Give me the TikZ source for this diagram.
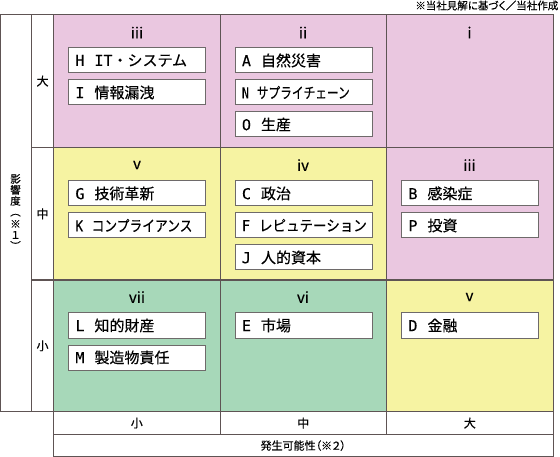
\documentclass[tikz,border=0pt]{standalone}
\usepackage{fontspec}
\usepackage{graphicx}
\setmainfont{Noto Sans CJK JP}[FakeBold=0.35]
\newfontfamily\jpp{Noto Sans CJK JP}[RawFeature=+palt, FakeBold=0.35]
\newfontfamily\ltrfont{DejaVu Sans Mono}[FakeBold=0.3]
\newcommand\rk[2]{{\ltrfont\fontsize{15}{16}\selectfont #1}\hspace{10pt}#2}
\definecolor{pinkc}{HTML}{EAC7E0}
\definecolor{yelc}{HTML}{F6F3A2}
\definecolor{grnc}{HTML}{A7D8B9}
\definecolor{gridc}{HTML}{5E5454}
\definecolor{boxc}{HTML}{6E6A6A}
\begin{document}
\begin{tikzpicture}[x=1pt,y=-1pt,
  cell/.style={draw=gridc, line width=1.1pt, anchor=north west, inner sep=0pt, minimum width=#1},
  cell/.default=166.5pt,
  rbox/.style={draw=boxc, line width=0.9pt, fill=white, anchor=north west, inner xsep=7pt, inner ysep=0pt,
    text width=123pt, minimum height=25pt, align=left, font=\fontsize{15}{16}\selectfont},
  rn/.style={font=\fontsize{15}{16}\selectfont, inner sep=0pt},
  axl/.style={font=\fontsize{12}{14}\selectfont, inner sep=0pt},
]
\useasboundingbox (0,0) rectangle (560,457);
% frame columns
\node[cell=31pt, minimum height=397pt] (leftcol) at (0,14) {};
\node[cell=22pt, minimum height=133pt] (lab1) at (31,14) {};
\node[cell=22pt, minimum height=132.5pt] (lab2) at (31,147) {};
\node[cell=22pt, minimum height=131.5pt] (lab3) at (31,279.5) {};
% grid cells
\node[cell, minimum height=133pt, fill=pinkc] (c11) at (53,14) {};
\node[cell, minimum height=133pt, fill=pinkc] (c12) at (219.5,14) {};
\node[cell, minimum height=133pt, fill=pinkc] (c13) at (386,14) {};
\node[cell, minimum height=132.5pt, fill=yelc] (c21) at (53,147) {};
\node[cell, minimum height=132.5pt, fill=yelc] (c22) at (219.5,147) {};
\node[cell, minimum height=132.5pt, fill=pinkc] (c23) at (386,147) {};
\node[cell, minimum height=131.5pt, fill=grnc] (c31) at (53,279.5) {};
\node[cell, minimum height=131.5pt, fill=grnc] (c32) at (219.5,279.5) {};
\node[cell, minimum height=131.5pt, fill=yelc] (c33) at (386,279.5) {};
% bottom axis
\node[cell, minimum height=23pt] (x1) at (53,411) {};
\node[cell, minimum height=23pt] (x2) at (219.5,411) {};
\node[cell, minimum height=23pt] (x3) at (386,411) {};
\node[cell=499.5pt, minimum height=22pt] (xt) at (53,434) {};
% numerals
\node[rn] (n11) at (137,32.5) {iii};
\node[rn] (n12) at (303,32.5) {ii};
\node[rn] (n13) at (469.5,32.5) {i};
\node[rn] (n21) at (137,165) {v};
\node[rn] (n22) at (303,165) {iv};
\node[rn] (n23) at (469.5,165) {iii};
\node[rn] (n31) at (137,297) {vii};
\node[rn] (n32) at (303,297) {vi};
\node[rn] (n33) at (469.5,297) {v};
% risk boxes
\node[rbox] (bH) at (68,47.5) {\rk{H}{{\ltrfont\fontsize{15}{16}\selectfont IT}・システム}};
\node[rbox] (bI) at (68,79.5) {\rk{I}{情報漏洩}};
\node[rbox] (bA) at (234.5,47.5) {\rk{A}{自然災害}};
\node[rbox] (bN) at (234.5,79.5) {\scalebox{0.78}[1]{\rk{N}{サプライチェーン}}};
\node[rbox] (bO) at (234.5,111.5) {\rk{O}{生産}};
\node[rbox] (bG) at (68,180.5) {\rk{G}{技術革新}};
\node[rbox] (bK) at (68,212.5) {\scalebox{0.85}[1]{\rk{K}{コンプライアンス}}};
\node[rbox] (bC) at (234.5,180.5) {\rk{C}{政治}};
\node[rbox] (bF) at (234.5,212.5) {\scalebox{0.9}[1]{\rk{F}{レピュテーション}}};
\node[rbox] (bJ) at (234.5,244.5) {\rk{J}{人的資本}};
\node[rbox] (bB) at (401,180.5) {\rk{B}{感染症}};
\node[rbox] (bP) at (401,212.5) {\rk{P}{投資}};
\node[rbox] (bL) at (68,312.5) {\rk{L}{知的財産}};
\node[rbox] (bM) at (68,344.5) {\rk{M}{製造物責任}};
\node[rbox] (bE) at (234.5,312.5) {\rk{E}{市場}};
\node[rbox] (bD) at (401,312.5) {\rk{D}{金融}};
% axis labels
\node[axl] (ly1) at (lab1.center) {大};
\node[axl] (ly2) at (lab2.center) {中};
\node[axl] (ly3) at (lab3.center) {小};
\node[axl] (lx1) at (x1.center) {小};
\node[axl] (lx2) at (x2.center) {中};
\node[axl] (lx3) at (x3.center) {大};
\node[font=\jpp\fontsize{11}{13}\selectfont, inner sep=0pt] (xtitle) at (xt.center) {発生可能性（※２）};
\node[font=\fontsize{10.5}{11}\selectfont, align=center, inner sep=0pt] (ytitle) at (15.5,212) {影\\響\\度\\︵\\[1pt]※\\１\\︶};
\node[font=\jpp\fontsize{10.5}{12}\selectfont, anchor=east, inner sep=0pt] (note) at (558.5,5.5) {※当社見解に基づく／当社作成};
\end{tikzpicture}
\end{document}
